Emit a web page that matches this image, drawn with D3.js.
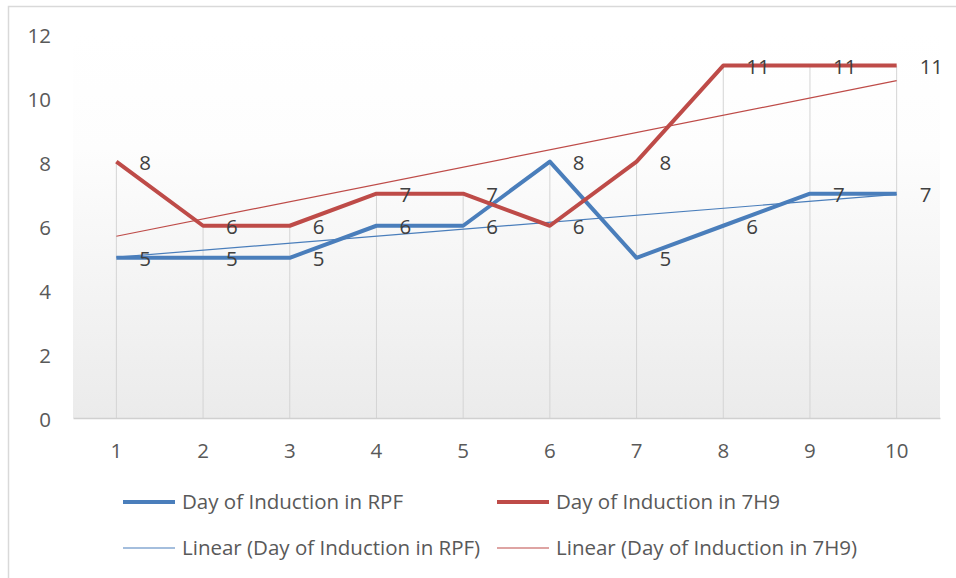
<!DOCTYPE html>
<html>
<head>
<meta charset="utf-8">
<script src="https://cdn.jsdelivr.net/npm/d3@7/dist/d3.min.js"></script>
<style>
  html, body { margin: 0; padding: 0; background: #ffffff; }
  svg { display: block; }
  text { font-family: "Open Sans", "Noto Sans", sans-serif; }
</style>
</head>
<body>
<svg id="chart" width="956" height="578"></svg>
<script>
// Day number on the x axis
const days = [1, 2, 3, 4, 5, 6, 7, 8, 9, 10];
// Day of induction in each medium
const rpfValues = [5, 5, 5, 6, 6, 8, 5, 6, 7, 7];
const h9Values = [8, 6, 6, 7, 7, 6, 8, 11, 11, 11];
const yTicks = [0, 2, 4, 6, 8, 10, 12];
const seriesNames = ["Day of Induction in RPF", "Day of Induction in 7H9"];
const trendNames = ["Linear (Day of Induction in RPF)", "Linear (Day of Induction in 7H9)"];

const blue = "#4a7ebb";
const red = "#be4b48";
const fontSize = 20.5;

const svg = d3.select("#chart");
const W = 956, H = 578;
const plot = { left: 73, right: 940, top: 33.5, bottom: 418 };

// chart frame (extends past the right and bottom edges)
svg.append("rect")
  .attr("x", 8.5).attr("y", 6.5)
  .attr("width", W + 20).attr("height", H + 20)
  .attr("fill", "#ffffff")
  .attr("stroke", "#d9d9d9").attr("stroke-width", 1.5);

const x = d3.scaleBand().domain(days).range([plot.left, plot.right]).padding(0);
const cx = d => x(d) + x.bandwidth() / 2;
const y = d3.scaleLinear().domain([0, 12]).range([plot.bottom, plot.top]);

// plot area background gradient
const defs = svg.append("defs");
const grad = defs.append("linearGradient").attr("id", "plotBg")
  .attr("x1", 0).attr("y1", 0).attr("x2", 0).attr("y2", 1);
grad.append("stop").attr("offset", "0%").attr("stop-color", "#ffffff");
grad.append("stop").attr("offset", "30%").attr("stop-color", "#fdfdfd");
grad.append("stop").attr("offset", "100%").attr("stop-color", "#ebebeb");
svg.append("rect")
  .attr("x", plot.left).attr("y", plot.top)
  .attr("width", plot.right - plot.left).attr("height", plot.bottom - plot.top)
  .attr("fill", "url(#plotBg)");

// drop lines from the higher series down to the axis
svg.append("g").selectAll("line")
  .data(days)
  .join("line")
  .attr("x1", d => cx(d)).attr("x2", d => cx(d))
  .attr("y1", (d, i) => y(Math.max(rpfValues[i], h9Values[i])))
  .attr("y2", y(0))
  .attr("stroke", "#d4d4d4").attr("stroke-width", 1);

// category axis
const xAxis = svg.append("g")
  .attr("transform", `translate(0,${plot.bottom})`)
  .call(d3.axisBottom(x).tickSize(0).tickPadding(25));
xAxis.select(".domain").attr("stroke", "#d0d0d0").attr("stroke-width", 1.5);
xAxis.selectAll("text").attr("font-size", fontSize).attr("fill", "#595959")
  .attr("font-family", "\"Open Sans\", sans-serif");

// value axis (labels only)
const yAxis = svg.append("g")
  .attr("transform", `translate(${plot.left},0)`)
  .call(d3.axisLeft(y).tickValues(yTicks).tickSize(0).tickPadding(22));
yAxis.select(".domain").remove();
yAxis.selectAll("text").attr("font-size", fontSize).attr("fill", "#595959")
  .attr("font-family", "\"Open Sans\", sans-serif")
  .attr("dy", "0.42em");

// least-squares trend line for a series
function linearFit(xs, ys) {
  const n = xs.length;
  const mx = d3.mean(xs), my = d3.mean(ys);
  let sxy = 0, sxx = 0;
  for (let i = 0; i < n; i++) {
    sxy += (xs[i] - mx) * (ys[i] - my);
    sxx += (xs[i] - mx) ** 2;
  }
  const slope = sxy / sxx;
  return v => my + slope * (v - mx);
}

const line = d3.line().x(d => cx(d[0])).y(d => y(d[1]));

const series = [
  { values: rpfValues, color: blue },
  { values: h9Values, color: red }
];

// trend lines
series.forEach(s => {
  const f = linearFit(days, s.values);
  const ends = [days[0], days[days.length - 1]];
  svg.append("path")
    .attr("d", line(ends.map(d => [d, f(d)])))
    .attr("fill", "none").attr("stroke", s.color).attr("stroke-width", 1.2);
});

// data lines
series.forEach(s => {
  svg.append("path")
    .attr("d", line(days.map((d, i) => [d, s.values[i]])))
    .attr("fill", "none").attr("stroke", s.color)
    .attr("stroke-width", 4).attr("stroke-linejoin", "round");
});

// value labels, right of each point
series.forEach(s => {
  svg.append("g").selectAll("text")
    .data(days)
    .join("text")
    .attr("x", d => cx(d) + 23)
    .attr("y", (d, i) => y(s.values[i]))
    .attr("dy", "0.4em")
    .attr("font-size", fontSize).attr("fill", "#404040")
    .text((d, i) => s.values[i]);
});

// legend
const legendItems = [
  { name: seriesNames[0], color: blue, width: 4, x: 123, y: 502 },
  { name: seriesNames[1], color: red, width: 4, x: 497, y: 502 },
  { name: trendNames[0], color: blue, width: 1.2, x: 123, y: 548 },
  { name: trendNames[1], color: red, width: 1.2, x: 497, y: 548 }
];
const lg = svg.append("g").selectAll("g").data(legendItems).join("g")
  .attr("transform", d => `translate(${d.x},${d.y})`);
lg.append("line").attr("x1", 0).attr("x2", 52).attr("y1", 0).attr("y2", 0)
  .attr("stroke", d => d.color).attr("stroke-width", d => d.width);
lg.append("text").attr("x", 59).attr("dy", "0.36em")
  .attr("font-size", fontSize).attr("fill", "#595959")
  .text(d => d.name);
</script>
</body>
</html>
